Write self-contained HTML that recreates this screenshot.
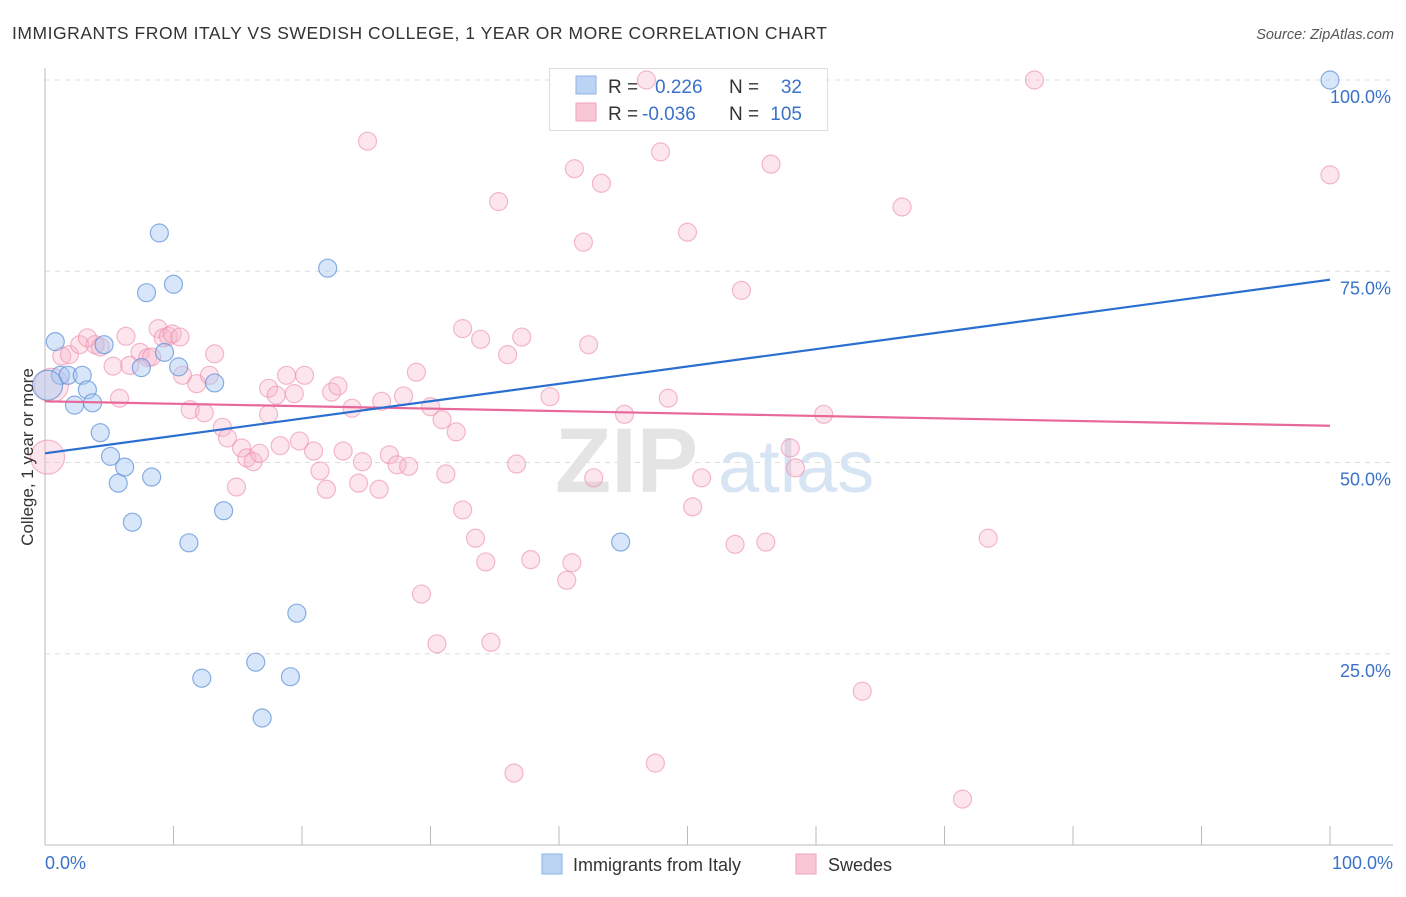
<!DOCTYPE html>
<html><head><meta charset="utf-8"><style>
body{margin:0;background:#fff;font-family:"Liberation Sans",sans-serif;}
svg text{font-family:"Liberation Sans",sans-serif;}
</style></head><body>
<svg width="1406" height="892" viewBox="0 0 1406 892" xmlns="http://www.w3.org/2000/svg">
<text x="12" y="39" font-size="17.5" fill="#333" textLength="815">IMMIGRANTS FROM ITALY VS SWEDISH COLLEGE, 1 YEAR OR MORE CORRELATION CHART</text>
<text x="1394" y="39" font-size="14.5" fill="#555" font-style="italic" text-anchor="end">Source: ZipAtlas.com</text>
<g id="grid"></g>
<g>
<text x="555" y="492" font-size="92" fill="#e4e4e4" font-family="Liberation Serif" font-weight="bold">ZIP</text>
<text x="718" y="492" font-size="74" fill="#d6e4f4">atlas</text>
</g>
<g>
<rect x="549.5" y="68.5" width="278" height="62" fill="#fff" stroke="#ddd"/>
<rect x="576" y="76" width="20" height="18" fill="#bcd4f4" stroke="#8fb2e4"/>
<rect x="576" y="103" width="20" height="18" fill="#f9c6d6" stroke="#eea2bc"/>
<text x="608" y="93" font-size="19" fill="#333">R = </text>
<text x="655" y="93" font-size="19" fill="#3a72c8">0.226</text>
<text x="729" y="93" font-size="19" fill="#333">N = </text>
<text x="802" y="93" font-size="19" fill="#3a72c8" text-anchor="end">32</text>
<text x="608" y="120" font-size="19" fill="#333">R = </text>
<text x="642" y="120" font-size="19" fill="#3a72c8">-0.036</text>
<text x="729" y="120" font-size="19" fill="#333">N = </text>
<text x="802" y="120" font-size="19" fill="#3a72c8" text-anchor="end">105</text>
</g>
<g id="axes"></g>
<g id="pink"></g>
<g id="blue"></g>
<g id="lines"></g>
<text transform="translate(33,457) rotate(-90)" font-size="17" fill="#333" text-anchor="middle">College, 1 year or more</text>
<g>
<rect x="542" y="854" width="20" height="20" fill="#bcd4f4" stroke="#8fb2e4"/>
<text x="573" y="871" font-size="18" fill="#333">Immigrants from Italy</text>
<rect x="796" y="854" width="20" height="20" fill="#f9c6d6" stroke="#eea2bc"/>
<text x="828" y="871" font-size="18" fill="#333">Swedes</text>
</g>
</svg>
<script>
const yTicks=[25,50,75,100];
const yTickLabels=["25.0%","50.0%","75.0%","100.0%"];
const xTicks=[0,10,20,30,40,50,60,70,80,90,100];
const blueX=[0.8,1.2,1.8,2.9,2.3,3.3,3.7,4.3,4.6,5.1,5.7,6.2,6.8,7.5,7.9,8.3,8.9,9.3,10.0,10.4,11.2,12.2,13.2,13.9,16.4,16.9,19.1,19.6,22.0,44.8,100,0.2];
const blueY=[65.8,61.4,61.4,61.4,57.5,59.5,57.8,53.9,65.4,50.8,47.3,49.4,42.2,62.4,72.2,48.1,80.0,64.4,73.3,62.5,39.5,21.8,60.4,43.7,23.9,16.6,22.0,30.3,75.4,39.6,100,60.1];
const blueBig=[31];
const pinkX=[0.2,0.5,1.3,1.9,2.7,3.3,3.9,4.3,5.3,5.8,6.3,6.6,7.4,8.0,8.3,8.8,9.2,9.6,9.9,10.5,10.7,11.3,11.8,12.4,12.8,13.2,13.8,14.2,14.9,15.3,15.7,16.2,16.7,17.4,17.4,18.0,18.3,18.8,19.4,19.8,20.2,20.9,21.4,21.9,22.3,22.8,23.2,23.9,24.4,24.7,25.1,26.0,26.2,26.8,27.4,27.9,28.3,28.9,29.3,30.0,30.5,30.9,31.2,32.0,32.5,32.5,33.5,33.9,34.3,34.7,35.3,36.0,36.5,36.7,37.1,37.8,39.3,40.6,41.0,41.2,41.9,42.3,42.7,43.3,45.1,46.8,47.5,47.9,48.5,50.0,50.4,51.1,53.7,54.2,56.1,56.5,58.0,58.4,60.6,63.6,66.7,71.4,73.4,77.0,100];
const pinkY=[50.7,60.1,63.9,64.1,65.4,66.3,65.4,65.1,62.6,58.4,66.5,62.7,64.4,63.7,63.8,67.5,66.3,66.5,66.8,66.4,61.4,56.9,60.3,56.5,61.4,64.2,54.6,53.2,46.8,51.9,50.6,50.1,51.2,56.3,59.7,58.8,52.2,61.4,59.0,52.8,61.4,51.5,48.9,46.5,59.2,60.0,51.5,57.1,47.3,50.1,92.0,46.5,58.0,51.0,49.7,58.7,49.5,61.8,32.8,57.3,26.3,55.6,48.5,54.0,67.5,43.8,40.1,66.1,37.0,26.5,84.1,64.1,9.4,49.8,66.4,37.3,58.6,34.6,36.9,88.4,78.8,65.4,48.0,86.5,56.3,100,10.7,90.6,58.4,80.1,44.2,48.0,39.3,72.5,39.6,89.0,51.9,49.3,56.3,20.1,83.4,6.0,40.1,100,87.6];
const pinkBig=[0,1];
const blueTrend=[51.2,73.9];
const pinkTrend=[58.0,54.8];
const NS="http://www.w3.org/2000/svg";
const X=v=>45+v*12.85;
const Y=v=>845-v*7.65;
function mk(tag,attrs,parent){const e=document.createElementNS(NS,tag);for(const k in attrs)e.setAttribute(k,attrs[k]);document.getElementById(parent).appendChild(e);return e;}
yTicks.forEach((t,i)=>{
 const l=mk('line',{x1:45,x2:1393,y1:Y(t),y2:Y(t),stroke:'#ddd','stroke-dasharray':'5,5'},'grid');
 
 
 const tx=mk('text',{x:1391,y:Y(t)+23,'font-size':18,fill:'#3a72c8','text-anchor':'end'},'axes');
 tx.textContent=yTickLabels[i];
 
 
});
let a=mk('line',{x1:45,x2:45,y1:68,y2:845,stroke:'#bbb'},'axes');


a=mk('line',{x1:45,x2:1393,y1:845,y2:845,stroke:'#bbb'},'axes');


xTicks.forEach(t=>{
 const l=mk('line',{x1:X(t),x2:X(t),y1:826,y2:845,stroke:'#bbb'},'axes');
 
 
});
let t0=mk('text',{x:45,y:869,'font-size':18,fill:'#3a72c8'},'axes');t0.textContent='0.0%';


t0=mk('text',{x:1393,y:869,'font-size':18,fill:'#3a72c8','text-anchor':'end'},'axes');t0.textContent='100.0%';


pinkX.forEach((v,i)=>{
 const c=mk('circle',{cx:X(v),cy:Y(pinkY[i]),r:pinkBig.includes(i)?17:9,fill:'rgba(246,180,204,0.35)',stroke:'rgba(236,140,172,0.6)','stroke-width':1.2},'pink');
 
 
});
blueX.forEach((v,i)=>{
 const c=mk('circle',{cx:X(v),cy:Y(blueY[i]),r:blueBig.includes(i)?15:9,fill:'rgba(168,200,242,0.45)',stroke:'rgba(90,142,214,0.7)','stroke-width':1.2},'blue');
 
 
});
let tl=mk('line',{x1:X(0),x2:X(100),y1:Y(pinkTrend[0]),y2:Y(pinkTrend[1]),stroke:'#e8689a','stroke-width':2.2},'lines');


tl=mk('line',{x1:X(0),x2:X(100),y1:Y(blueTrend[0]),y2:Y(blueTrend[1]),stroke:'#2a6fd0','stroke-width':2.2},'lines');


</script>
</body></html>
